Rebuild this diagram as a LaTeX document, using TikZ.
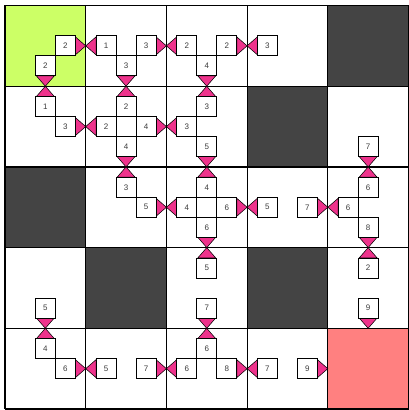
\documentclass[tikz,border=0pt]{standalone}
\usepackage{fontspec}
\setmainfont{Liberation Sans}
\usetikzlibrary{calc}
\definecolor{pinktri}{RGB}{238,51,140}
\definecolor{limecell}{RGB}{204,255,102}
\definecolor{salmoncell}{RGB}{255,128,128}
\definecolor{darkcell}{RGB}{68,68,68}
\definecolor{numgray}{RGB}{60,60,60}
\newcommand\cellfill[3]{\fill[#3] ({5+(#1)*80.7},{5.5+(#2)*80.7}) rectangle ++(80.7,80.7);}
\newcommand\port[6]{%
  \draw[tri] ($(#6)+({10*(#3)+9*(#4)},{10*(#4)+9*(#3)})$) -- ($(#6)+({10*(#3)-9*(#4)},{10*(#4)-9*(#3)})$) -- ($(#6)+({20.35*(#3)},{20.35*(#4)})$) -- cycle;
  \node[pbox] at (#6) {#5};
}
\newcommand\portat[6]{%
  \coordinate (#6) at ({5+(#1+0.5)*80.7+20*(#3)},{5.5+(#2+0.5)*80.7+20*(#4)});
  \port{#1}{#2}{#3}{#4}{#5}{#6}%
}
\begin{document}
\begin{tikzpicture}[x=0.75pt,y=-0.75pt,
  pbox/.style={draw=black, line width=0.6pt, fill=white, minimum size=15pt, inner sep=0pt, font=\fontsize{6}{6}\selectfont, text=numgray},
  tri/.style={fill=pinktri, draw=black, line width=0.4pt, line join=miter},
  gridline/.style={line width=0.9pt, draw=black}]
\useasboundingbox (0,0) rectangle (408,410);
% cell fills
\cellfill{0}{0}{limecell}
\cellfill{4}{4}{salmoncell}
\cellfill{4}{0}{darkcell}
\cellfill{3}{1}{darkcell}
\cellfill{0}{2}{darkcell}
\cellfill{1}{3}{darkcell}
\cellfill{3}{3}{darkcell}
% grid
\foreach \i in {0,...,5} {
  \draw[gridline] ({5+\i*80.7},5.5) -- ({5+\i*80.7},409);
  \draw[gridline] (5,{5.5+\i*80.7}) -- (408.5,{5.5+\i*80.7});
}
% ports: col, row, dx, dy, label, name
\portat{0}{0}{1}{0}{2}{p00e}
\portat{0}{0}{0}{1}{2}{p00s}
\portat{1}{0}{-1}{0}{1}{p10w}
\portat{1}{0}{1}{0}{3}{p10e}
\portat{1}{0}{0}{1}{3}{p10s}
\portat{2}{0}{-1}{0}{2}{p20w}
\portat{2}{0}{1}{0}{2}{p20e}
\portat{2}{0}{0}{1}{4}{p20s}
\portat{3}{0}{-1}{0}{3}{p30w}
\portat{0}{1}{0}{-1}{1}{p01n}
\portat{0}{1}{1}{0}{3}{p01e}
\portat{1}{1}{0}{-1}{2}{p11n}
\portat{1}{1}{-1}{0}{2}{p11w}
\portat{1}{1}{1}{0}{4}{p11e}
\portat{1}{1}{0}{1}{4}{p11s}
\portat{2}{1}{0}{-1}{3}{p21n}
\portat{2}{1}{-1}{0}{3}{p21w}
\portat{2}{1}{0}{1}{5}{p21s}
\portat{4}{1}{0}{1}{7}{p41s}
\portat{1}{2}{0}{-1}{3}{p12n}
\portat{1}{2}{1}{0}{5}{p12e}
\portat{2}{2}{0}{-1}{4}{p22n}
\portat{2}{2}{-1}{0}{4}{p22w}
\portat{2}{2}{1}{0}{6}{p22e}
\portat{2}{2}{0}{1}{6}{p22s}
\portat{3}{2}{-1}{0}{5}{p32w}
\portat{3}{2}{1}{0}{7}{p32e}
\portat{4}{2}{0}{-1}{6}{p42n}
\portat{4}{2}{-1}{0}{6}{p42w}
\portat{4}{2}{0}{1}{8}{p42s}
\portat{0}{3}{0}{1}{5}{p03s}
\portat{2}{3}{0}{-1}{5}{p23n}
\portat{2}{3}{0}{1}{7}{p23s}
\portat{4}{3}{0}{-1}{2}{p43n}
\portat{4}{3}{0}{1}{9}{p43s}
\portat{0}{4}{0}{-1}{4}{p04n}
\portat{0}{4}{1}{0}{6}{p04e}
\portat{1}{4}{-1}{0}{5}{p14w}
\portat{1}{4}{1}{0}{7}{p14e}
\portat{2}{4}{0}{-1}{6}{p24n}
\portat{2}{4}{-1}{0}{6}{p24w}
\portat{2}{4}{1}{0}{8}{p24e}
\portat{3}{4}{-1}{0}{7}{p34w}
\portat{3}{4}{1}{0}{9}{p34e}
\end{tikzpicture}
\end{document}
